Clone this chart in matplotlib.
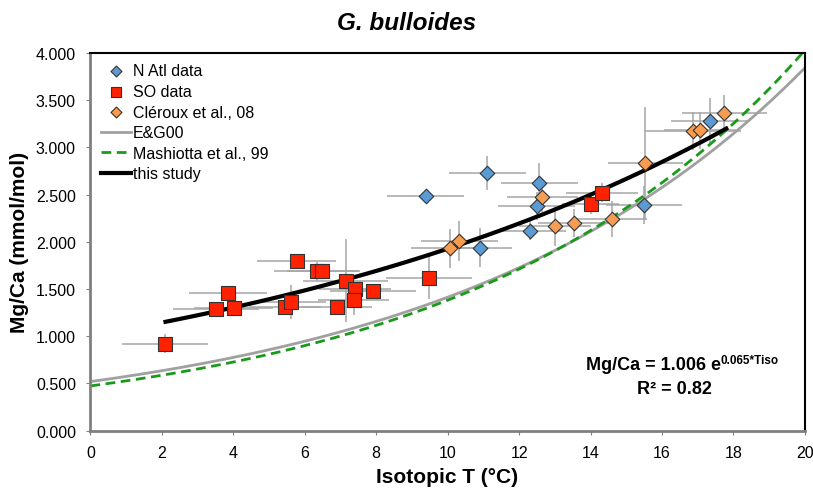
import numpy as np
import matplotlib
matplotlib.use('Agg')
import matplotlib.pyplot as plt

plt.rcParams['font.family'] = ['Liberation Sans', 'DejaVu Sans']

# N Atlantic data
natl_t = [9.38, 11.11, 12.57, 12.49, 12.31, 10.90, 15.50, 17.35]
natl_mg = [2.49, 2.73, 2.62, 2.38, 2.12, 1.94, 2.39, 3.28]
natl_terr = [1.07, 1.07, 1.07, 1.07, 1.0, 0.89, 1.07, 1.1]
natl_mgerr = [0.05, 0.18, 0.21, 0.15, 0.1, 0.21, 0.2, 0.24]

# Southern Ocean data
so_t = [2.08, 3.51, 3.85, 4.01, 5.44, 5.60, 5.77, 6.34, 6.49, 7.14, 7.41, 7.37, 6.89, 7.91, 9.48, 14.00, 14.32]
so_mg = [0.92, 1.29, 1.46, 1.30, 1.31, 1.36, 1.80, 1.69, 1.69, 1.59, 1.50, 1.38, 1.31, 1.48, 1.62, 2.40, 2.52]
so_terr = [1.2, 1.2, 1.1, 1.1, 1.0, 1.0, 1.1, 1.2, 1.0, 1.2, 1.0, 1.0, 1.0, 1.2, 1.2, 0.8, 1.0]
so_mgerr = [0.1, 0.05, 0.05, 0.08, 0.05, 0.18, 0.05, 0.1, 0.05, 0.44, 0.05, 0.15, 0.05, 0.05, 0.23, 0.1, 0.1]

# Cleroux et al. 2008
cler_t = [10.06, 10.32, 12.65, 13.00, 13.53, 14.59, 15.53, 16.86, 17.07, 17.74]
cler_mg = [1.93, 2.01, 2.47, 2.17, 2.20, 2.24, 2.83, 3.17, 3.18, 3.36]
cler_terr = [1.1, 1.08, 1.0, 1.0, 1.0, 1.0, 1.05, 1.35, 1.0, 1.19]
cler_mgerr = [0.21, 0.21, 0.15, 0.21, 0.15, 0.19, 0.6, 0.2, 0.2, 0.2]

# calibrations  Mg/Ca = a*exp(b*T)
eg_a, eg_b = 0.52, 0.10
mash_a, mash_b = 0.474, 0.107
this_a, this_b = 1.006, 0.065
this_range = (2.1, 17.8)

fig = plt.figure(figsize=(8.13, 4.89), dpi=100)
ax = fig.add_axes([0.1113, 0.1172, 0.8787, 0.7724])

ebkw = dict(fmt='none', ecolor='#a6a6a6', elinewidth=1.1, capsize=0, zorder=1)
ax.errorbar(natl_t, natl_mg, xerr=natl_terr, yerr=natl_mgerr, **ebkw)
ax.errorbar(so_t, so_mg, xerr=so_terr, yerr=so_mgerr, **ebkw)
ax.errorbar(cler_t, cler_mg, xerr=cler_terr, yerr=cler_mgerr, **ebkw)

T = np.linspace(0, 20, 200)
ax.plot(T, eg_a * np.exp(eg_b * T), color='#a0a0a0', lw=2, label='E&G00', zorder=2)
ax.plot(T, mash_a * np.exp(mash_b * T), color='#1a9a1a', lw=2, ls=(0, (3.5, 2)),
        label='Mashiotta et al., 99', zorder=2)
Ts = np.linspace(this_range[0], this_range[1], 100)
ax.plot(Ts, this_a * np.exp(this_b * Ts), color='black', lw=3, label='this study', zorder=3)

ax.scatter(natl_t, natl_mg, marker='D', s=55, c='#5b9bd5', edgecolors='#333333',
           linewidths=0.8, label='N Atl data', zorder=4)
ax.scatter(so_t, so_mg, marker='s', s=110, c='#ff2200', edgecolors='#333333',
           linewidths=0.8, label='SO data', zorder=4)
ax.scatter(cler_t, cler_mg, marker='D', s=55, c='#f79c50', edgecolors='#333333',
           linewidths=0.8, label='Cléroux et al., 08', zorder=4)

ax.set_xlim(0, 20)
ax.set_ylim(0, 4)
ax.set_xticks(np.arange(0, 21, 2))
ax.set_yticks(np.arange(0, 4.01, 0.5))
ax.yaxis.set_major_formatter(matplotlib.ticker.FormatStrFormatter('%.3f'))
ax.tick_params(labelsize=11.5, length=3, color='#808080', pad=7.5)
for s in ['left', 'bottom']:
    ax.spines[s].set_color('#808080')
    ax.spines[s].set_linewidth(2)
for s in ['top', 'right']:
    ax.spines[s].set_color('black')
    ax.spines[s].set_linewidth(1.5)

ax.set_xlabel('Isotopic T (°C)', fontsize=15, fontweight='bold', va='center')
ax.set_ylabel('Mg/Ca (mmol/mol)', fontsize=15, fontweight='bold', va='center')
ax.xaxis.set_label_coords(0.4997, -0.1226)
ax.yaxis.set_label_coords(-0.099, 0.5)
fig.text(0.5, 0.951, 'G. bulloides', fontsize=17.5, fontweight='bold', style='italic',
         ha='center', va='center')

h, l = ax.get_legend_handles_labels()
order = [3, 4, 5, 0, 1, 2]
ax.legend([h[i] for i in order], [l[i] for i in order], loc='upper left',
          frameon=False, fontsize=11.5, handlelength=1.9, handletextpad=0.12,
          labelspacing=0.35, borderaxespad=0.35, borderpad=0.3, markerscale=0.75)

t_main = ax.text(0.6935, 0.174, 'Mg/Ca = 1.006 e', transform=ax.transAxes,
                 ha='left', va='center', fontsize=13, fontweight='bold')
ax.annotate('0.065*Tiso', xy=(1.0, 0.45), xycoords=t_main, ha='left', va='bottom',
            fontsize=8.5, fontweight='bold')
ax.text(0.818, 0.113, 'R² = 0.82', transform=ax.transAxes, ha='center', va='center',
        fontsize=13, fontweight='bold')

fig.savefig('out.png', dpi=100)
